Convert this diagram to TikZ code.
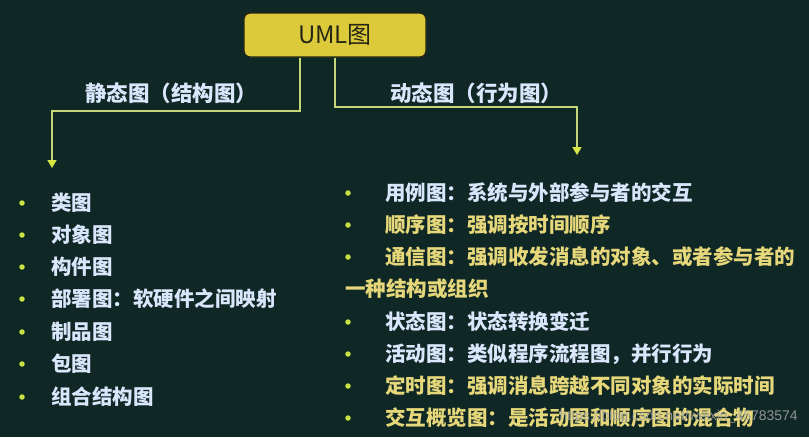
\documentclass[tikz,border=0pt]{standalone}
\usepackage{fontspec}
\setmainfont{Noto Sans CJK SC}
\newfontfamily\urlfont{Liberation Sans}
\usetikzlibrary{arrows.meta}

\definecolor{bgteal}{RGB}{15,39,37}
\definecolor{boxyel}{RGB}{221,202,58}
\definecolor{boxedge}{RGB}{38,38,20}
\definecolor{linkgrn}{RGB}{196,214,118}
\definecolor{tipgrn}{RGB}{214,232,70}
\definecolor{dotgrn}{RGB}{200,226,70}
\definecolor{txtpale}{RGB}{218,230,252}
\definecolor{txtyel}{RGB}{230,216,122}

\tikzset{
  root/.style={draw=boxedge, line width=1.4pt, fill=boxyel, rounded corners=6pt,
    minimum width=182pt, minimum height=44pt, inner sep=0pt,
    text=boxedge, font=\fontsize{24}{28}\selectfont},
  head/.style={text=txtpale, inner sep=0pt, font=\fontsize{21.5}{26}\selectfont\bfseries},
  item/.style={anchor=west, inner sep=0pt, text=txtpale, font=\fontsize{20.5}{24}\selectfont\bfseries},
  hot/.style={item, text=txtyel},
  dot/.style={circle, fill=dotgrn, inner sep=0pt, minimum size=5.5pt},
  link/.style={draw=linkgrn, line width=1.6pt, -{Triangle[width=9pt,length=8pt,fill=tipgrn,color=tipgrn]}}
}

\begin{document}
\begin{tikzpicture}[x=1pt,y=-1pt]
\fill[bgteal] (0,0) rectangle (809,437);
\useasboundingbox (0,0) rectangle (809,437);

\node[root] (uml) at (335,35) {UML图};

\node[head] (stc) at (171,93) {静态图（结构图）};
\node[head] (dyn) at (476,93) {动态图（行为图）};

\coordinate (sa) at (52,168);
\coordinate (da) at (577,155);
\draw[link] ([xshift=-35pt]uml.south) -- ++(0,53) -| (sa);
\draw[link] (uml.south) -- ++(0,49) -| (da);

\node[dot] (b1) at (22,203) {};
\node[dot] (b2) at (22,235) {};
\node[dot] (b3) at (22,267) {};
\node[dot] (b4) at (22,299) {};
\node[dot] (b5) at (22,332) {};
\node[dot] (b6) at (22,364) {};
\node[dot] (b7) at (22,397) {};

\node[item] (s1) at (51,203) {类图};
\node[item] (s2) at (51,235) {对象图};
\node[item] (s3) at (51,267) {构件图};
\node[item] (s4) at (51,299) {部署图：软硬件之间映射};
\node[item] (s5) at (51,332) {制品图};
\node[item] (s6) at (51,364) {包图};
\node[item] (s7) at (51,397) {组合结构图};

\node[dot] (c1) at (348,193) {};
\node[dot] (c2) at (348,225) {};
\node[dot] (c3) at (348,257) {};
\node[dot] (c4) at (348,322) {};
\node[dot] (c5) at (348,354) {};
\node[dot] (c6) at (348,386) {};
\node[dot] (c7) at (348,418) {};

\node[item] (d1) at (385,193) {用例图：系统与外部参与者的交互};
\node[hot] (d2) at (385,225) {顺序图：强调按时间顺序};
\node[hot] (d3) at (385,257) {通信图：强调收发消息的对象、或者参与者的};
\node[hot] (d3b) at (345,289) {一种结构或组织};
\node[item] (d4) at (385,322) {状态图：状态转换变迁};
\node[item] (d5) at (385,354) {活动图：类似程序流程图，并行行为};
\node[hot] (d6) at (385,386) {定时图：强调消息跨越不同对象的实际时间};
\node[hot] (d7) at (385,418) {交互概览图：是活动图和顺序图的混合物};

\node[anchor=east, inner sep=0pt, text=gray!70, opacity=.85, font=\urlfont\fontsize{14}{16}\selectfont] (wm) at (798,417) {https://blog.csdn.net/weixin\_45783574};
\end{tikzpicture}
\end{document}
